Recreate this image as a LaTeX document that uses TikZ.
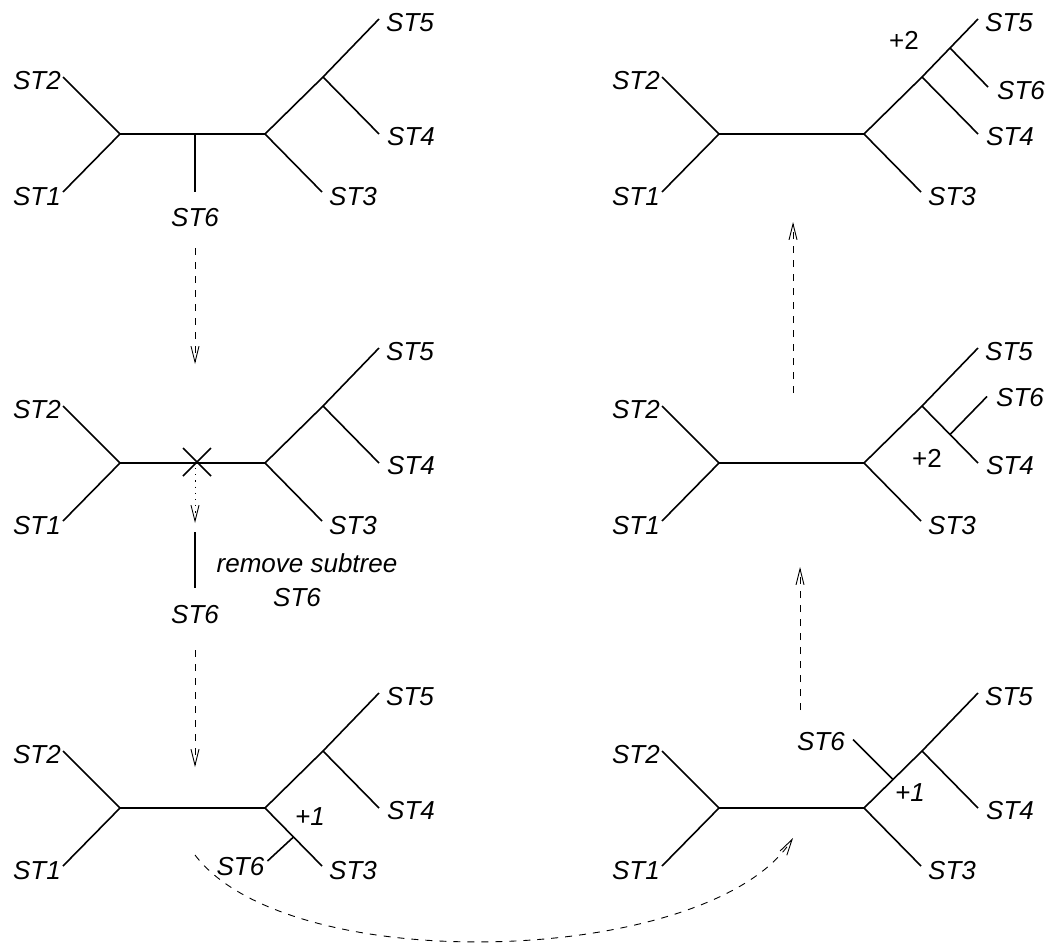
\documentclass[tikz,border=0pt]{standalone}
\usepackage{fontspec}
\setmainfont{Liberation Sans}
\usetikzlibrary{arrows.meta,calc}
\tikzset{
  edge/.style={line width=1.6pt},
  lab/.style={font=\fontsize{26}{30}\selectfont\itshape, inner sep=0pt},
  num/.style={font=\fontsize{26}{30}\selectfont, inner sep=0pt},
  flow/.style={line width=0.9pt, dash pattern=on 7pt off 7pt,
    -{Straight Barb[length=16pt,width=8pt]}},
  dotflow/.style={line width=0.9pt, dash pattern=on 1.2pt off 5pt,
    -{Straight Barb[length=16pt,width=8pt]}},
}
\newcommand\utree[3]{%
  \begin{scope}[shift={(#2,#3)}]
    \coordinate (#1L) at (0,0);
    \coordinate (#1R) at (145,0);
    \coordinate (#1a) at (-57,58);
    \coordinate (#1b) at (-57,-57);
    \coordinate (#1c) at (202,58);
    \coordinate (#1I) at (203,-57);
    \coordinate (#1e) at (259,-115);
    \coordinate (#1d) at (259,0);
  \end{scope}
  \draw[edge] (#1b) -- (#1L) -- (#1a);
  \draw[edge] (#1L) -- (#1R) -- (#1c);
  \draw[edge] (#1R) -- (#1I) -- (#1e);
  \draw[edge] (#1I) -- (#1d);
  \node[lab,anchor=east,xshift=-2pt,yshift=-4pt] (#1t2) at (#1b) {ST2};
  \node[lab,anchor=east,xshift=-2pt,yshift=-5pt] (#1t1) at (#1a) {ST1};
  \node[lab,anchor=west,xshift=7pt,yshift=-5pt] (#1t3) at (#1c) {ST3};
  \node[lab,anchor=west,xshift=7pt,yshift=-4pt] (#1t5) at (#1e) {ST5};
  \node[lab,anchor=west,xshift=8pt,yshift=-3pt] (#1t4) at (#1d) {ST4};
}
\begin{document}
\begin{tikzpicture}[x=1pt,y=-1pt]
\useasboundingbox (0,0) rectangle (1049,945);

% panel 1 (top left)
\utree{a}{120}{134}
\coordinate (aS) at (195,134);
\coordinate (aS6) at (195,192);
\draw[edge] (aS) -- (aS6);
\node[lab,anchor=north,yshift=-16pt] (at6) at (aS6) {ST6};

% panel 2 (middle left)
\utree{b}{120}{463}
\coordinate (bX) at (197,462);
\coordinate (bX1) at (183,448);
\coordinate (bX2) at (211,476);
\coordinate (bX3) at (211,448);
\coordinate (bX4) at (183,476);
\draw[edge] (bX1) -- (bX2);
\draw[edge] (bX3) -- (bX4);
\coordinate (bS) at (195,532);
\coordinate (bS6) at (195,588);
\draw[edge] (bS) -- (bS6);
\node[lab,anchor=north,yshift=-17pt] (bt6) at (bS6) {ST6};
\node[lab] (rm1) at (307,563) {remove subtree};
\node[lab] (rm2) at (297,598) {ST6};

% panel 3 (bottom left)
\utree{c}{120}{808}
\coordinate (cA) at ($(cR)!0.5!(cc)$);
\coordinate (cS6) at ($(cA)+(-26,24)$);
\draw[edge] (cA) -- (cS6);
\node[lab,anchor=east,xshift=-3pt,yshift=-6pt] (ct6) at (cS6) {ST6};
\node[lab] (cp) at (310,817) {+1};

% panel 4 (bottom right)
\utree{d}{719}{808}
\coordinate (dA) at ($(dR)!0.5!(dI)$);
\coordinate (dS6) at ($(dA)+(-40,-40)$);
\draw[edge] (dA) -- (dS6);
\node[lab,anchor=east,xshift=-8pt,yshift=-2pt] (dt6) at (dS6) {ST6};
\node[lab] (dp) at (910,793) {+1};

% panel 5 (middle right)
\utree{e}{719}{463}
\coordinate (eA) at ($(eI)!0.5!(ed)$);
\coordinate (eS6) at ($(eA)+(37,-38)$);
\draw[edge] (eA) -- (eS6);
\node[lab,anchor=west,xshift=9pt,yshift=-1pt] (et6) at (eS6) {ST6};
\node[num] (ep) at (927,458) {+2};

% panel 6 (top right)
\utree{f}{719}{134}
\coordinate (fJ) at ($(fI)!0.5!(fe)$);
\coordinate (fS6) at ($(fJ)+(38,39)$);
\draw[edge] (fJ) -- (fS6);
\node[lab,anchor=west,xshift=9pt,yshift=-4pt] (ft6) at (fS6) {ST6};
\node[num] (fp) at (904,40) {+2};

% arrows
\coordinate (a1s) at (195,248);
\coordinate (a1e) at (195,364);
\draw[flow] (a1s) -- (a1e);
\coordinate (a2s) at (195,468);
\coordinate (a2e) at (195,523);
\draw[dotflow] (a2s) -- (a2e);
\coordinate (a3s) at (195,650);
\coordinate (a3e) at (195,767);
\draw[flow] (a3s) -- (a3e);
\coordinate (a4s) at (195,855);
\coordinate (a4e) at (793,838);
\draw[flow] (a4s) .. controls (290,980) and (712,966) .. (a4e);
\coordinate (a5s) at (800,710);
\coordinate (a5e) at (800,567);
\draw[flow] (a5s) -- (a5e);
\coordinate (a6s) at (793,393);
\coordinate (a6e) at (793,222);
\draw[flow] (a6s) -- (a6e);
\end{tikzpicture}
\end{document}
